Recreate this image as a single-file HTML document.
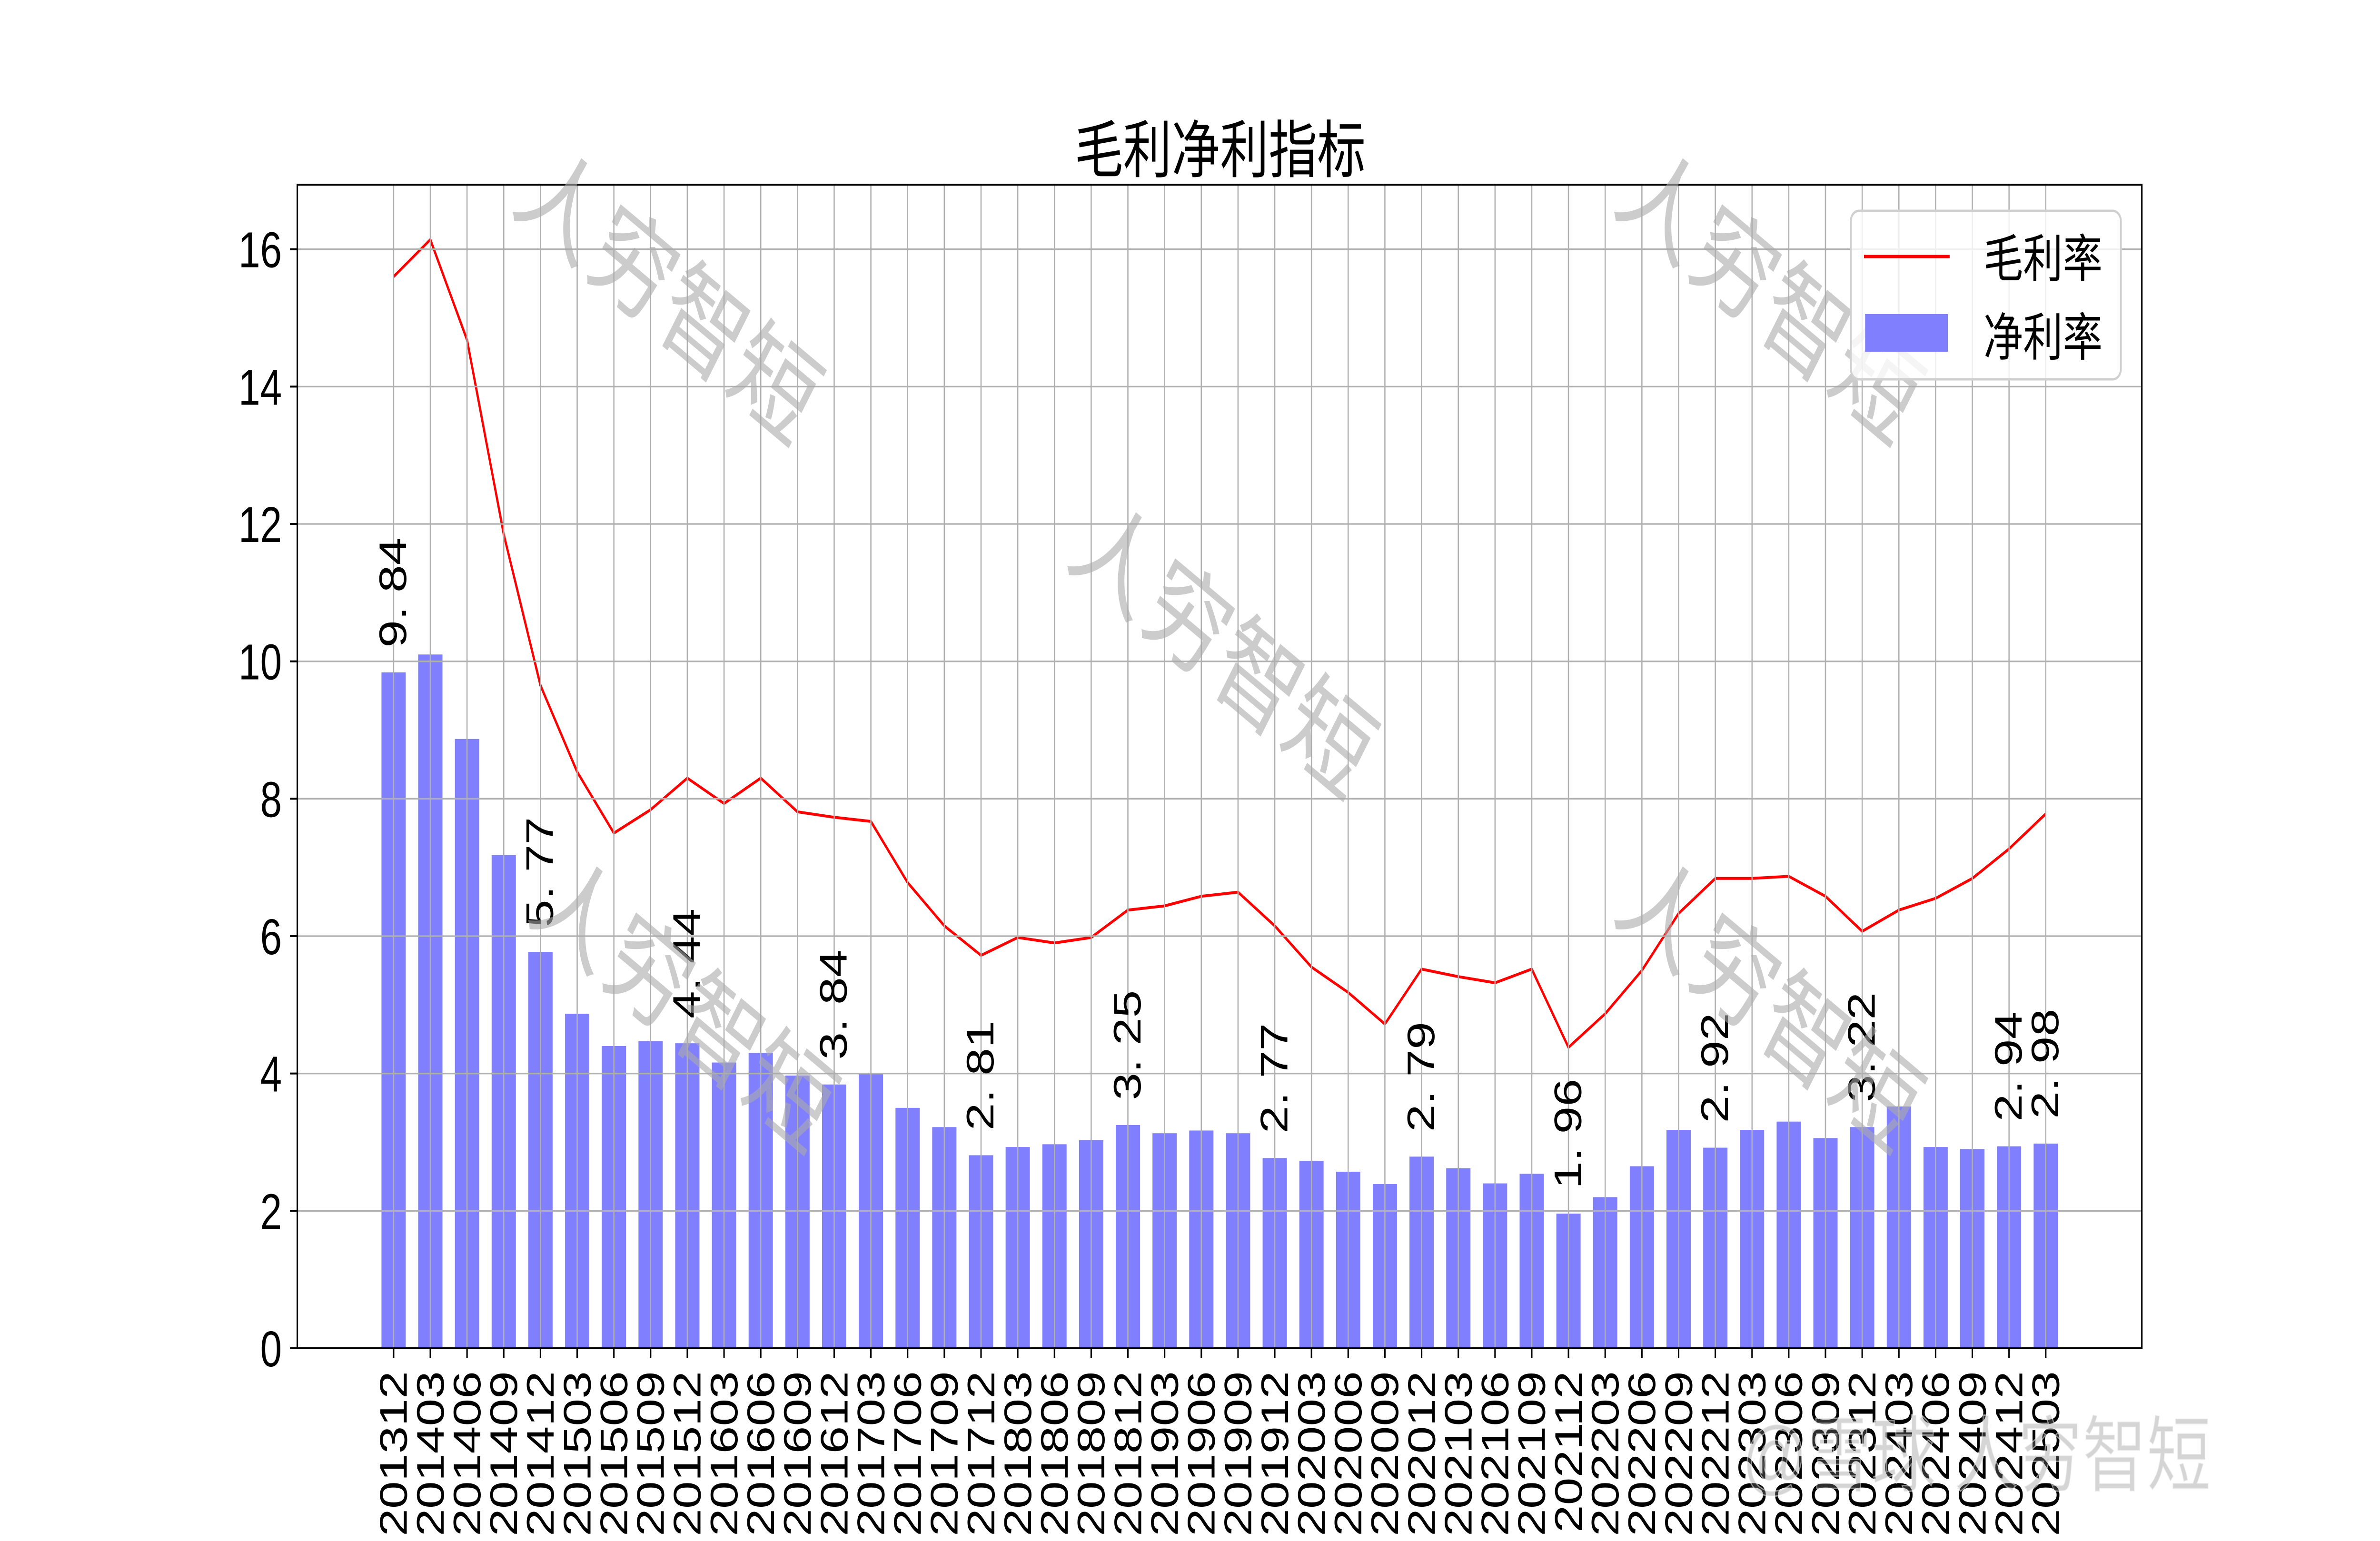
<!DOCTYPE html>
<html><head><meta charset="utf-8"><style>
html,body{margin:0;padding:0;background:#fff;width:100vw;height:100vh;overflow:hidden;}
svg{display:block;width:100vw;height:100vh;}
text{font-family:"Liberation Sans","Noto Sans CJK SC",sans-serif;}
</style></head><body>
<svg id="chart" viewBox="0 0 6476 3238" preserveAspectRatio="none" xmlns="http://www.w3.org/2000/svg">
<rect x="0" y="0" width="6476" height="3238" fill="#fff"/>
<g id="bars"></g>
<g id="line"></g>
<g id="grid"></g>
<g id="labels"></g>
<g id="axes"></g>
<g id="wm"></g>
<text x="3320" y="362" font-size="132" text-anchor="middle">毛利净利指标</text>
<g>
<rect x="5036" y="443" width="735" height="354" rx="22" fill="#fff" fill-opacity="0.8" stroke="#d0d0d0" stroke-width="5"/>
<line x1="5072" y1="539" x2="5305" y2="539" stroke="#ff0000" stroke-width="7"/>
<text x="5397" y="582" font-size="108">毛利率</text>
<rect x="5075" y="660" width="225" height="79" fill="#8080ff"/>
<text x="5397" y="747" font-size="108">净利率</text>
</g>
<text x="4740" y="3120" font-size="175" fill="#888" fill-opacity="0.35" stroke="#fff" stroke-opacity="0.5" stroke-width="3">@雪球 人穷智短</text>
</svg>
<script>
const categories=["201312","201403","201406","201409","201412","201503","201506","201509","201512","201603","201606","201609","201612","201703","201706","201709","201712","201803","201806","201809","201812","201903","201906","201909","201912","202003","202006","202009","202012","202103","202106","202109","202112","202203","202206","202209","202212","202303","202306","202309","202312","202403","202406","202409","202412","202503"];
const grossMargin=[15.6,16.14,14.68,11.85,9.65,8.39,7.5,7.84,8.3,7.93,8.3,7.81,7.73,7.67,6.78,6.15,5.72,5.98,5.9,5.98,6.38,6.44,6.58,6.64,6.15,5.55,5.18,4.72,5.52,5.41,5.32,5.52,4.38,4.87,5.5,6.33,6.84,6.84,6.87,6.58,6.07,6.38,6.55,6.84,7.27,7.78];
const netMargin=[9.84,10.1,8.87,7.18,5.77,4.87,4.4,4.47,4.44,4.16,4.3,3.97,3.84,4.0,3.5,3.22,2.81,2.93,2.97,3.03,3.25,3.13,3.17,3.13,2.77,2.73,2.57,2.39,2.79,2.62,2.4,2.54,1.96,2.2,2.65,3.18,2.92,3.18,3.3,3.06,3.22,3.52,2.93,2.9,2.94,2.98];
const yTicks=[0,2,4,6,8,10,12,14,16];
const labeledIdx=[0,4,8,12,16,20,24,28,32,36,40,44,45];
const wmText="人穷智短";

const NS="http://www.w3.org/2000/svg";
const L=809,R=5828,T=388,B=2833,Y0=0,Y1=16.94;
const X0=1071,DX=99.9,BW=66;
function xs(i){return X0+i*DX;}
function ys(v){return B-(v-Y0)/(Y1-Y0)*(B-T);}
function mk(tag,attrs,parent){const e=document.createElementNS(NS,tag);for(const k in attrs)e.setAttribute(k,attrs[k]);parent.appendChild(e);return e;}
const gBars=document.getElementById('bars'),gLine=document.getElementById('line'),gGrid=document.getElementById('grid'),gLab=document.getElementById('labels'),gAx=document.getElementById('axes'),gWm=document.getElementById('wm');

netMargin.forEach((v,i)=>{
  const r=mk('rect',{x:xs(i)-BW/2,y:ys(v),width:BW,height:B-ys(v),fill:'#8080ff'},gBars);
  
  
});
const pts=grossMargin.map((v,i)=>xs(i).toFixed(1)+','+ys(v).toFixed(1)).join(' ');
const pl=mk('polyline',{points:pts,fill:'none',stroke:'#ff0000','stroke-width':6,'stroke-linejoin':'round'},gLine);



categories.forEach((c,i)=>{
  const g=mk('line',{x1:xs(i),y1:T,x2:xs(i),y2:B,stroke:'#b0b0b0','stroke-width':3.3},gGrid);
  
  
  const t=mk('line',{x1:xs(i),y1:B,x2:xs(i),y2:B+20,stroke:'#000','stroke-width':4},gAx);
  
  
  const x=xs(i)+36,y=B+48;
  const lb=mk('text',{x:x,y:y,'font-size':104,'text-anchor':'end',transform:'rotate(-90 '+x+' '+y+')'},gAx);
  lb.textContent=c;
  
  
});
yTicks.forEach(v=>{
  const g=mk('line',{x1:L,y1:ys(v),x2:R,y2:ys(v),stroke:'#b0b0b0','stroke-width':3.3},gGrid);
  
  
  const t=mk('line',{x1:L-20,y1:ys(v),x2:L,y2:ys(v),stroke:'#000','stroke-width':4},gAx);
  
  
  const lb=mk('text',{x:767,y:ys(v)+38,'font-size':106,'text-anchor':'end'},gAx);
  lb.textContent=String(v);
  
  
});
const frame=mk('rect',{x:L,y:T,width:R-L,height:B-T,fill:'none',stroke:'#000','stroke-width':4},gAx);



labeledIdx.forEach(i=>{
  const x=xs(i)+34,y=ys(netMargin[i])-52;
  const lb=mk('text',{x:x,y:y,'font-size':104,transform:'rotate(-90 '+x+' '+y+')'},gLab);
  const s=netMargin[i].toFixed(2).replace('.','. ');
  lb.textContent=s;
  
  
});

const wmPos=[[1818,620],[3327,1364],[1860,2108],[4815,620],[4815,2108]];
wmPos.forEach(p=>{
  const w=mk('text',{x:p[0],y:p[1]+80,'font-size':230,'text-anchor':'middle',fill:'#aaaaaa','fill-opacity':0.6,transform:'rotate(33 '+p[0]+' '+p[1]+')'},gWm);
  w.textContent=wmText;
  
  
});
</script>
</body></html>
